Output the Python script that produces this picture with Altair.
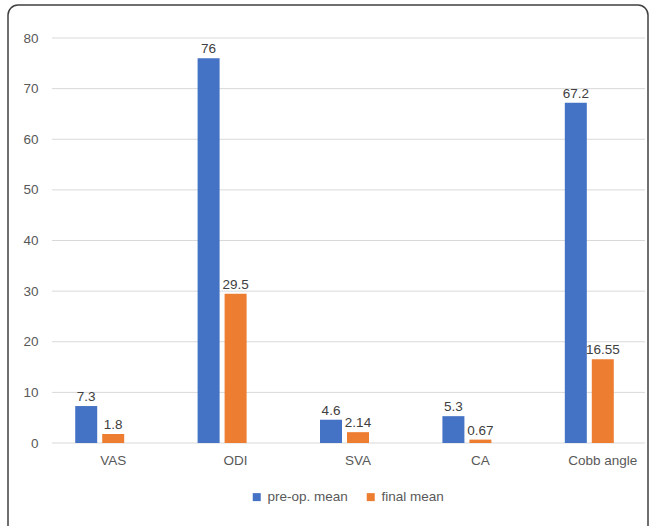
import altair as alt
import pandas as pd

categories = ["VAS", "ODI", "SVA", "CA", "Cobb angle"]
pre_op = [7.3, 76, 4.6, 5.3, 67.2]
final = [1.8, 29.5, 2.14, 0.67, 16.55]
series_names = ["pre-op. mean", "final mean"]
colors = ["#4472C4", "#ED7D31"]
y_ticks = [0, 10, 20, 30, 40, 50, 60, 70, 80]

rows = []
for c, v in zip(categories, pre_op):
    rows.append({"cat": c, "series": series_names[0], "value": v, "label": str(v)})
for c, v in zip(categories, final):
    rows.append({"cat": c, "series": series_names[1], "value": v, "label": str(v)})
df = pd.DataFrame(rows)
grid_df = pd.DataFrame({"value": y_ticks})

FONT = "Liberation Sans"
FS = 13.5

x = alt.X("cat:N", sort=categories, title=None,
          scale=alt.Scale(range=[0, 612], paddingInner=0, paddingOuter=0),
          axis=alt.Axis(labelAngle=0, ticks=False, domain=False, labelPadding=10,
                        labelFontSize=FS, labelColor="#595959", labelFont=FONT, grid=False))
xo = alt.XOffset("series:N",
                 scale=alt.Scale(domain=series_names + ["_blank"], paddingInner=0.185, paddingOuter=0.86))
y = alt.Y("value:Q", title=None,
          scale=alt.Scale(domain=[0, 80], nice=False),
          axis=alt.Axis(values=y_ticks, ticks=False, domain=False, labelPadding=14,
                        labelFontSize=FS, labelColor="#595959", labelFont=FONT, grid=False))

base = alt.Chart(df)

grid = alt.Chart(grid_df).mark_rule(color="#D9D9D9", strokeWidth=1).encode(
    y=y, x=alt.value(0), x2=alt.value(593),
)

bars = base.mark_bar().encode(
    x=x, xOffset=xo, y=y,
    color=alt.Color("series:N",
                    scale=alt.Scale(domain=series_names, range=colors),
                    legend=alt.Legend(title=None, orient="none", direction="horizontal",
                                      legendX=198, legendY=452, symbolType="square",
                                      symbolSize=64, symbolStrokeWidth=0,
                                      labelFontSize=FS, labelColor="#595959", labelFont=FONT,
                                      labelOffset=4, columnPadding=16, padding=0)),
)

texts = base.mark_text(baseline="bottom", dy=-2, fontSize=FS, color="#404040", font=FONT).encode(
    x=x, xOffset=xo, y=y, text="label:N"
)

frame = alt.Chart(pd.DataFrame({"a": [0]})).mark_rect(
    fill=None, stroke="#404040", strokeWidth=1.5, cornerRadius=10, clip=False
).encode(x=alt.value(-44), x2=alt.value(596), y=alt.value(-33), y2=alt.value(520))

chart = alt.layer(frame, grid, bars, texts).properties(
    width=593, height=405,
    autosize=alt.AutoSizeParams(type="none"),
    padding={"left": 52, "top": 38, "right": 7, "bottom": 83},
    view=alt.ViewBackground(stroke=None, strokeOpacity=0),
).configure_view(stroke=None, strokeOpacity=0, strokeWidth=0).configure_axis(
    domain=False, grid=False
).configure(background="white")

chart.save("out.html", embed_options={"renderer": "svg", "actions": False})
